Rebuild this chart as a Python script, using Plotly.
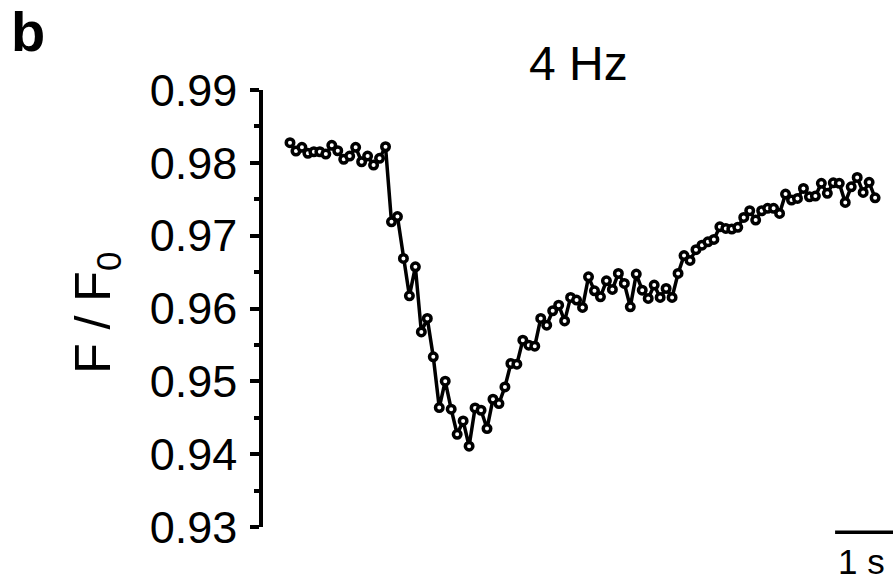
import plotly.graph_objects as go

# Normalised fluorescence F/F0 during 4 Hz stimulation, sampled every 0.1 s
time_s = [
    0.0, 0.1, 0.2, 0.3, 0.4, 0.5, 0.6, 0.7, 0.8, 0.9,
    1.0, 1.1, 1.2, 1.3, 1.4, 1.5, 1.6, 1.7, 1.8, 1.9,
    2.0, 2.1, 2.2, 2.3, 2.4, 2.5, 2.6, 2.7, 2.8, 2.9,
    3.0, 3.1, 3.2, 3.3, 3.4, 3.5, 3.6, 3.7, 3.8, 3.9,
    4.0, 4.1, 4.2, 4.3, 4.4, 4.5, 4.6, 4.7, 4.8, 4.9,
    5.0, 5.1, 5.2, 5.3, 5.4, 5.5, 5.6, 5.7, 5.8, 5.9,
    6.0, 6.1, 6.2, 6.3, 6.4, 6.5, 6.6, 6.7, 6.8, 6.9,
    7.0, 7.1, 7.2, 7.3, 7.4, 7.5, 7.6, 7.7, 7.8, 7.9,
    8.0, 8.1, 8.2, 8.3, 8.4, 8.5, 8.6, 8.7, 8.8, 8.9,
    9.0, 9.1, 9.2, 9.3, 9.4, 9.5, 9.6, 9.7, 9.8,
]
f_over_f0 = [
    0.98276, 0.98162, 0.98213, 0.98130, 0.98152, 0.98152, 0.98121, 0.98240, 0.98166, 0.98048,
    0.98093, 0.98213, 0.98015, 0.98093, 0.97969, 0.98062, 0.98221, 0.97190, 0.97262, 0.96688,
    0.96174, 0.96572, 0.95679, 0.95863, 0.95336, 0.94640, 0.95002, 0.94617, 0.94273, 0.94456,
    0.94109, 0.94635, 0.94603, 0.94352, 0.94754, 0.94695, 0.94923, 0.95245, 0.95235, 0.95565,
    0.95496, 0.95483, 0.95863, 0.95771, 0.95968, 0.96046, 0.95830, 0.96152, 0.96115, 0.96014,
    0.96435, 0.96242, 0.96160, 0.96380, 0.96262, 0.96481, 0.96344, 0.96023, 0.96472, 0.96252,
    0.96138, 0.96321, 0.96152, 0.96275, 0.96152, 0.96481, 0.96726, 0.96660, 0.96808, 0.96870,
    0.96916, 0.96949, 0.97122, 0.97100, 0.97090, 0.97114, 0.97251, 0.97342, 0.97214, 0.97342,
    0.97375, 0.97375, 0.97306, 0.97571, 0.97489, 0.97512, 0.97649, 0.97534, 0.97544, 0.97718,
    0.97581, 0.97726, 0.97718, 0.97457, 0.97671, 0.97800, 0.97594, 0.97732, 0.97520,
]
y_tick_values = [0.93, 0.94, 0.95, 0.96, 0.97, 0.98, 0.99]
y_tick_labels = ["0.93", "0.94", "0.95", "0.96", "0.97", "0.98", "0.99"]
y_minor_values = [0.935, 0.945, 0.955, 0.965, 0.975, 0.985]

# Time scale bar (1 s)
scalebar_start_s = 9.13
scalebar_length_s = 1.0
scalebar_label = "1 s"

FONT = "Liberation Sans, Arial, sans-serif"
STROKE = 3.5

fig = go.Figure()
fig.add_trace(go.Scatter(
    x=time_s,
    y=f_over_f0,
    mode="lines+markers",
    line=dict(color="black", width=STROKE),
    marker=dict(symbol="circle", size=7.5, color="white",
                line=dict(color="black", width=STROKE)),
    showlegend=False,
))

fig.update_layout(
    width=893,
    height=580,
    margin=dict(l=263, r=0, t=90, b=53),
    paper_bgcolor="white",
    plot_bgcolor="white",
    font=dict(family=FONT, color="black"),
    xaxis=dict(
        visible=False,
        range=[-0.452, 10.10],
        showgrid=False,
        zeroline=False,
    ),
    yaxis=dict(
        range=[0.93, 0.99],
        tickmode="array",
        tickvals=y_tick_values,
        ticktext=y_tick_labels,
        ticks="outside",
        ticklen=9,
        tickwidth=STROKE,
        tickcolor="black",
        showline=True,
        linecolor="black",
        linewidth=STROKE,
        showgrid=False,
        zeroline=False,
        tickfont=dict(family=FONT, size=45, color="black"),
        ticklabelstandoff=4,
        minor=dict(
            tickmode="array",
            tickvals=y_minor_values,
            ticks="outside",
            ticklen=5,
            tickwidth=STROKE,
            tickcolor="black",
            showgrid=False,
        ),
    ),
)

# Scale bar below the trace
fig.add_shape(
    type="line",
    xref="x", yref="paper",
    x0=scalebar_start_s, x1=scalebar_start_s + scalebar_length_s,
    y0=-0.012, y1=-0.012,
    line=dict(color="black", width=STROKE),
)
fig.add_annotation(
    xref="x", yref="paper",
    x=scalebar_start_s + scalebar_length_s / 2 - 0.06, y=-0.078,
    text=scalebar_label, showarrow=False,
    font=dict(family=FONT, size=35, color="black"),
    xanchor="center", yanchor="middle",
    borderpad=0,
)

# Condition title
fig.add_annotation(
    xref="paper", yref="paper",
    x=0.5, y=1.06,
    text="4 Hz", showarrow=False,
    font=dict(family=FONT, size=48, color="black"),
    xanchor="center", yanchor="middle",
)

# Y axis title
fig.add_annotation(
    xref="paper", yref="paper",
    x=-0.2635, y=0.49,
    text="F / F<sub>0</sub>", showarrow=False, textangle=-90,
    font=dict(family=FONT, size=50, color="black"),
    xanchor="center", yanchor="middle",
)

# Panel letter
fig.add_annotation(
    xref="paper", yref="paper",
    x=-0.373, y=1.135,
    text="<b>b</b>", showarrow=False,
    font=dict(family=FONT, size=56, color="black"),
    xanchor="center", yanchor="middle",
)

fig.write_html("out.html")
